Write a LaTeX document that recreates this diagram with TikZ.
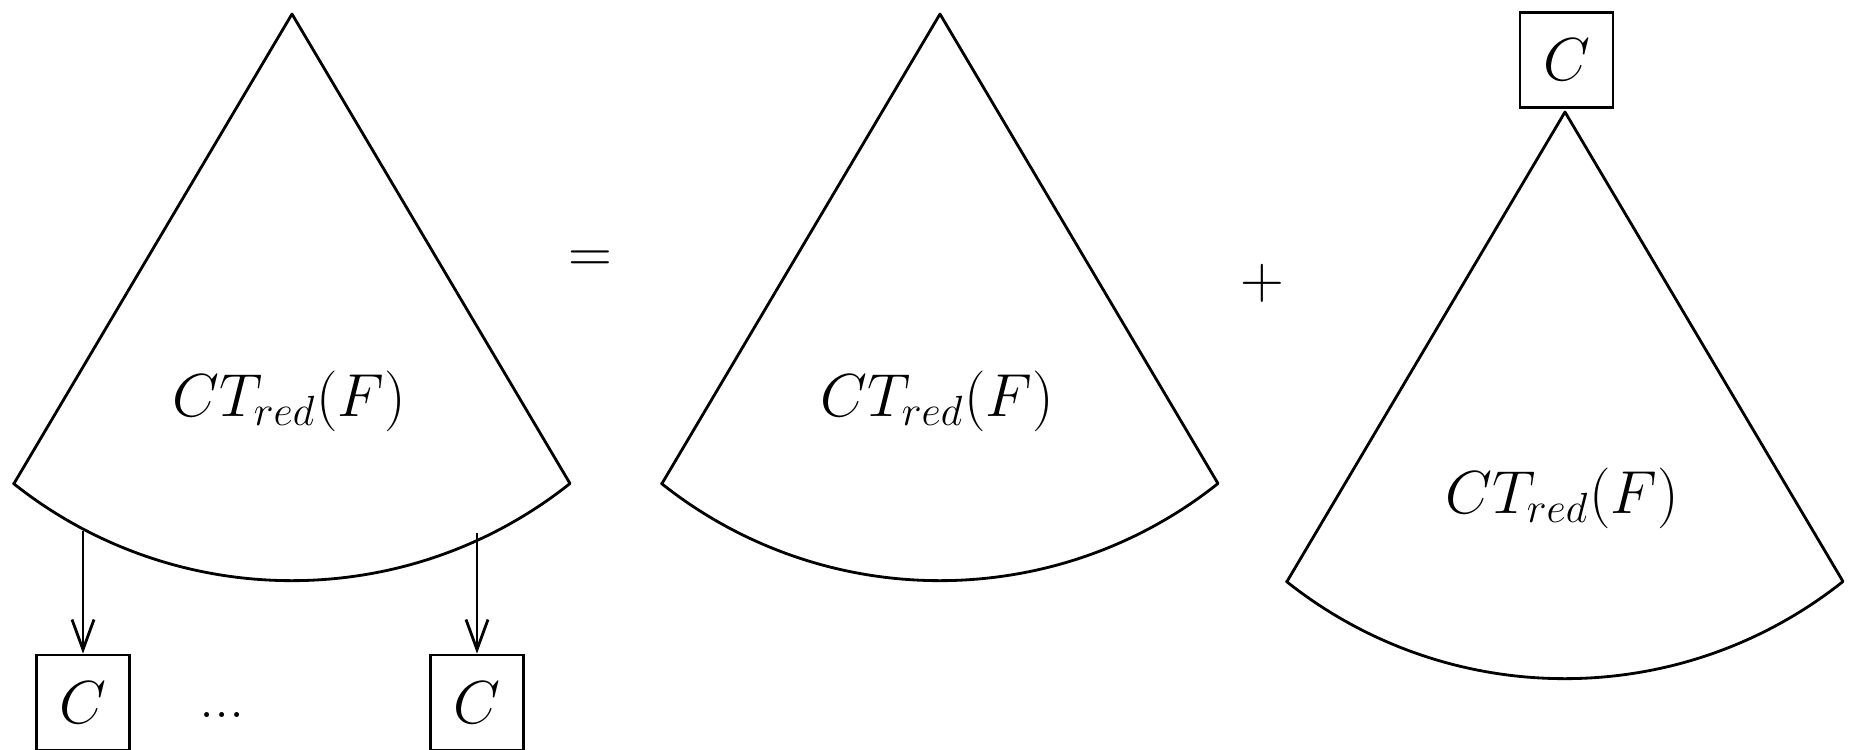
\documentclass[tikz,border=0pt]{standalone}
\usepackage{amsmath}
\usetikzlibrary{arrows.meta}

\begin{document}
\begin{tikzpicture}[
    every node/.style={font=\fontsize{17.28}{21}\selectfont},
    fan/.style={draw, thick, line join=round},
    cb/.style={rectangle, draw, thick, minimum width=9.3mm, minimum height=9.5mm, inner sep=0pt},
    e/.style={thick, -{Straight Barb[length=3mm, width=2.2mm]}},
    op/.style={inner sep=0pt},
  ]
  \useasboundingbox (0,0) rectangle (18.49,-7.50);
  % left-hand side
  \draw[fan] (0.14,-4.835) -- (2.92,-0.14) -- (5.70,-4.835)
    arc[start angle=308.5, end angle=231.5, radius=4.47] -- cycle;
  \node (t1) at (2.89,-4.01) {$CT_{red}(F)$};
  \node[cb] (c1) at (0.83,-7.025) {$C$};
  \node[cb] (c2) at (4.77,-7.025) {$C$};
  \node (dots) at (2.22,-7.15) {...};
  \coordinate (s1) at (0.83,-5.31);
  \coordinate (s2) at (4.77,-5.33);
  \draw[e] (s1) -- (c1);
  \draw[e] (s2) -- (c2);
  \node[op] (eq) at (5.90,-2.62) {$=$};
  % middle
  \draw[fan] (6.62,-4.835) -- (9.40,-0.14) -- (12.18,-4.835)
    arc[start angle=308.5, end angle=231.5, radius=4.47] -- cycle;
  \node (t2) at (9.37,-4.01) {$CT_{red}(F)$};
  \node[op] (pl) at (12.62,-2.83) {$+$};
  % right
  \node[cb] (c0) at (15.665,-0.60) {$C$};
  \draw[fan] (12.87,-5.815) -- (15.65,-1.12) -- (18.43,-5.815)
    arc[start angle=308.5, end angle=231.5, radius=4.47] -- cycle;
  \node (t3) at (15.62,-4.98) {$CT_{red}(F)$};
\end{tikzpicture}
\end{document}
